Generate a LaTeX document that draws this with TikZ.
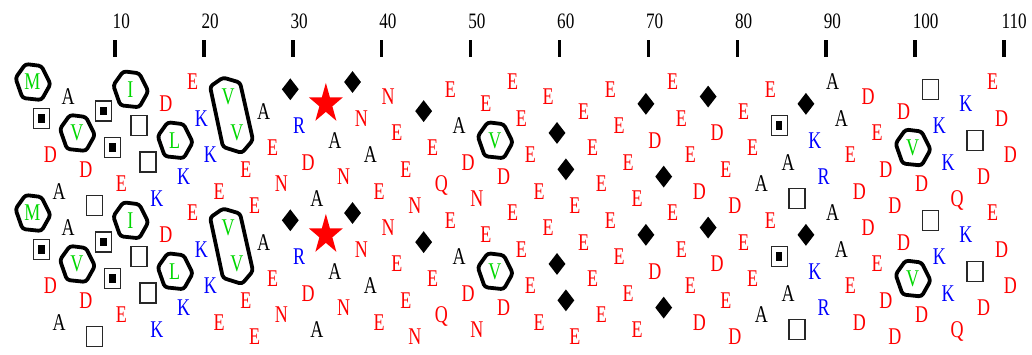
\documentclass[tikz,border=0pt]{standalone}
\usepackage{fontspec}
\usepackage{graphicx}
\setmainfont{Liberation Serif}
\usetikzlibrary{shapes.geometric}
\definecolor{hred}{RGB}{255,0,0}
\definecolor{hblue}{RGB}{0,0,255}
\definecolor{hgreen}{RGB}{0,215,0}
\definecolor{hgray}{RGB}{40,40,40}
\tikzset{
  res/.style={inner sep=0pt, text height=15.9pt, text depth=0pt, font=\fontsize{24}{24}\selectfont},
  acid/.style={res, text=hred},
  basic/.style={res, text=hblue},
  neutral/.style={res, text=black},
  hydro/.style={res, text=hgreen},
  sbox/.style={draw=hgray, line width=1.4pt, minimum width=16pt, minimum height=20pt, inner sep=0pt},
  gly/.style={diamond, fill=black, inner sep=0pt, minimum width=17pt, minimum height=22pt},
  hexline/.style={line width=3.8pt, line join=round, draw=black, rounded corners=3pt},
  tickbar/.style={line width=3.5pt, draw=black},
  ticklabel/.style={inner sep=0pt, anchor=west, text height=14.9pt, text depth=0pt, font=\fontsize{22}{22}\selectfont, text=black},
}
\newcommand\mkletter[5]{\node[#1] (#5) at (#3,#4) {\scalebox{0.75}[1]{#2}};}
\newcommand\resM[3]{\mkletter{hydro}{M}{#1}{#2}{#3}}
\newcommand\resV[3]{\mkletter{hydro}{V}{#1}{#2}{#3}}
\newcommand\resI[3]{\mkletter{hydro}{I}{#1}{#2}{#3}}
\newcommand\resL[3]{\mkletter{hydro}{L}{#1}{#2}{#3}}
\newcommand\resD[3]{\mkletter{acid}{D}{#1}{#2}{#3}}
\newcommand\resE[3]{\mkletter{acid}{E}{#1}{#2}{#3}}
\newcommand\resN[3]{\mkletter{acid}{N}{#1}{#2}{#3}}
\newcommand\resQ[3]{\mkletter{acid}{Q}{#1}{#2}{#3}}
\newcommand\resK[3]{\mkletter{basic}{K}{#1}{#2}{#3}}
\newcommand\resR[3]{\mkletter{basic}{R}{#1}{#2}{#3}}
\newcommand\resA[3]{\mkletter{neutral}{A}{#1}{#2}{#3}}
\newcommand\resS[3]{\node[sbox] (#3) at (#1,#2) {};}
\newcommand\resT[3]{\node[sbox] (#3) at (#1,#2) {};\fill[black] (#3.center) ++(-3.2,-4.2) rectangle ++(6.4,8.4);}
\newcommand\resG[3]{\node[gly] (#3) at (#1,#2) {};}
\newcommand\resP[3]{\coordinate (#3) at (#1,#2);
  \fill[hred] ([shift={(0,-21)}]#3) -- ([shift={(4.02,-6.49)}]#3) -- ([shift={(17.02,-6.49)}]#3)
   -- ([shift={(6.51,2.48)}]#3) -- ([shift={(10.52,16.99)}]#3) -- ([shift={(0,8.02)}]#3)
   -- ([shift={(-10.52,16.99)}]#3) -- ([shift={(-6.51,2.48)}]#3) -- ([shift={(-17.02,-6.49)}]#3)
   -- ([shift={(-4.02,-6.49)}]#3) -- cycle;}
\begin{document}
\begin{tikzpicture}[x=1pt,y=-1pt]
\fill[white] (0,0) rectangle (1032,354);
\useasboundingbox (0,0) rectangle (1032,354);
% ruler
\foreach \k in {10,20,...,110}{
  \pgfmathsetmacro\tx{115+(\k-10)*8.89}
  \node[ticklabel] (lab\k) at (\tx-2.5,21) {\scalebox{0.78}[1]{\k}};
  \coordinate (bt\k) at (\tx,40);
  \coordinate (bb\k) at (\tx,57);
  \draw[tickbar] (bt\k) -- (bb\k);
}
% residues
\foreach \i/\r in {1/M,2/T,3/D,4/A,5/A,6/V,7/D,8/S,9/T,10/T,11/E,12/I,13/S,14/S,15/K,16/D,17/L,18/K,19/E,20/K,21/K,22/E,23/V,24/V,25/E,26/E,27/A,28/E,29/N,30/G,31/R,32/D,33/A,34/P,35/A,36/N,37/G,38/N,39/A,40/E,41/N,42/E,43/E,44/N,45/G,46/E,47/Q,48/E,49/A,50/D,51/N,52/E,53/V,54/D,55/E,56/E,57/E,58/E,59/E,60/G,61/G,62/E,63/E,64/E,65/E,66/E,67/E,68/E,69/E,70/G,71/D,72/G,73/E,74/E,75/E,76/D,77/G,78/D,79/E,80/D,81/E,82/E,83/A,84/E,85/T,86/A,87/S,88/G,89/K,90/R,91/A,92/A,93/E,94/D,95/D,96/E,97/D,98/D,99/D,100/V,101/D,102/S,103/K,104/K,105/Q,106/K,107/S,108/D,109/E,110/D,111/D}{
  \pgfmathsetmacro\px{112.5+(\i-10)*8.89}
  \pgfmathsetmacro\py{82+mod(100*(\i-1),360)/360*131}
  \pgfmathsetmacro\pyb{\py+131}
  \csname res\r\endcsname{\px}{\py}{r\i a}
  \csname res\r\endcsname{\px}{\pyb}{r\i b}
}
% hydrophobic hexagons
\foreach \n in {1,6,12,17,53,100}{
  \foreach \s in {a,b}{
    \draw[hexline] ([shift={(-17,-4)}]r\n\s.center) -- ([shift={(-7,-18)}]r\n\s.center)
      -- ([shift={(9,-16)}]r\n\s.center) -- ([shift={(18,2)}]r\n\s.center)
      -- ([shift={(9,18)}]r\n\s.center) -- ([shift={(-10,16)}]r\n\s.center) -- cycle;
  }
}
% VV cluster
\foreach \s in {a,b}{
  \draw[hexline] ([shift={(-18,-10)}]r23\s.center) -- ([shift={(-5,-19)}]r23\s.center)
    -- ([shift={(12,-14)}]r23\s.center) -- ([shift={(16,7)}]r24\s.center)
    -- ([shift={(5,20)}]r24\s.center) -- ([shift={(-14,14)}]r24\s.center) -- cycle;
}
\end{tikzpicture}
\end{document}
